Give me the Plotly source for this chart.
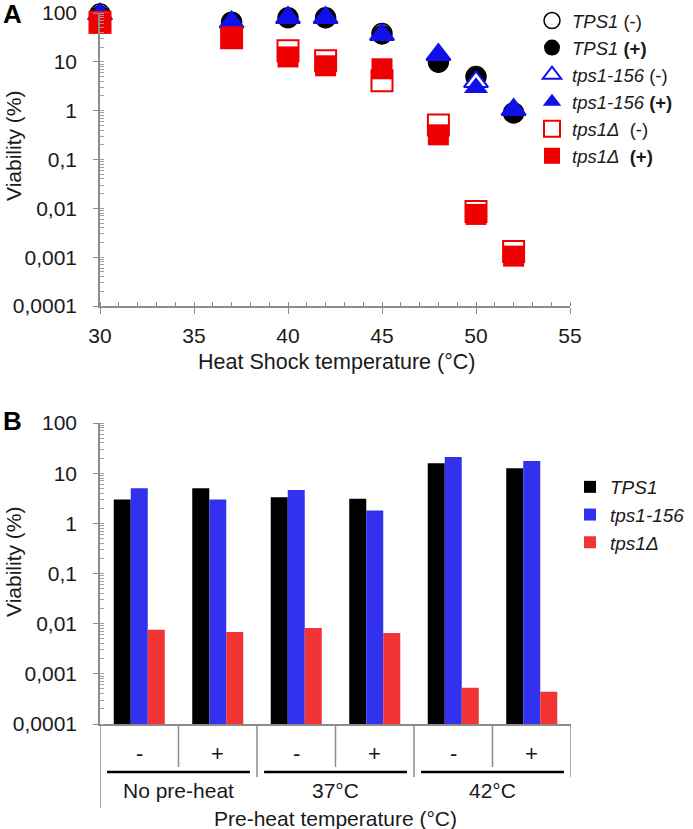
import plotly.graph_objects as go

W, H = 693, 829
FONT = "Liberation Sans, Arial, Helvetica, sans-serif"
TXT = "#1a1a1a"
AX = "#8c8c8c"

# ---------------- Panel A data ----------------
temps = [30, 37, 40, 42, 45, 48, 50, 52]
tps1_minus = [95, 65, 80, 80, 38, 10, 5.0, 0.9]
tps1_plus = [90, 65, 80, 78, 36, 9.5, 4.9, 0.9]
tps1_156_minus = [95, 65, 80, 80, 36, 14, 3.9, 1.05]
tps1_156_plus = [95, 65, 80, 80, 35, 14, 2.95, 1.05]
tps1d_minus = [65, 31, 16.8, 10.5, 4.1, 0.51, 0.0086, 0.0013]
tps1d_plus = [62, 30, 12.6, 8.3, 7.2, 0.32, 0.0075, 0.00105]

y_tickvals = [0.0001, 0.001, 0.01, 0.1, 1, 10, 100]
y_ticktext = ["0,0001", "0,001", "0,01", "0,1", "1", "10", "100"]
x_tickvals_a = [30, 35, 40, 45, 50, 55]

# ---------------- Panel B data ----------------
groups = ["No pre-heat", "37°C", "42°C"]
signs = ["-", "+", "-", "+", "-", "+"]
tps1_b = [3.0, 5.0, 3.3, 3.1, 15.8, 12.6]
tps1_156_b = [5.0, 3.0, 4.6, 1.8, 21.0, 17.4]
tps1d_b = [0.0076, 0.0068, 0.0082, 0.0065, 0.00053, 0.00044]


def px(x):
    return x / W


def py(y):
    return 1 - y / H


fig = go.Figure()

lab = [
    "<i>TPS1</i> (-)",
    "<i>TPS1</i> <b>(+)</b>",
    "<i>tps1-156</i> (-)",
    "<i>tps1-156</i> <b>(+)</b>",
    "<i>tps1Δ</i> \u00a0(-)",
    "<i>tps1Δ</i> \u00a0<b>(+)</b>",
]
series_a = [tps1_minus, tps1_plus, tps1_156_minus, tps1_156_plus, tps1d_minus, tps1d_plus]
styles = [
    dict(symbol="circle", size=20, color="white", line=dict(color="black", width=1.5)),
    dict(symbol="circle", size=20, color="black", line=dict(color="black", width=0)),
    dict(symbol="triangle-up", size=21, color="white", line=dict(color="#1010e8", width=2)),
    dict(symbol="triangle-up", size=21, color="#1010e8", line=dict(color="#1010e8", width=0)),
    dict(symbol="square", size=21, color="white", line=dict(color="#ee0000", width=2)),
    dict(symbol="square", size=21, color="#ee0000", line=dict(color="#ee0000", width=0)),
]
for name, vals, st in zip(lab, series_a, styles):
    fig.add_trace(go.Scatter(
        x=temps, y=vals, mode="markers", name=name, marker=st,
        xaxis="x", yaxis="y", legend="legend", cliponaxis=False,
    ))

bar_cols = ["#000000", "#3232ee", "#f23434"]
bar_names = ["<i>TPS1</i>", "<i>tps1-156</i>", "<i>tps1Δ</i>"]
idx = list(range(len(signs)))
for name, vals, c in zip(bar_names, [tps1_b, tps1_156_b, tps1d_b], bar_cols):
    fig.add_trace(go.Bar(
        x=idx, y=vals, name=name, marker=dict(color=c, line=dict(width=0)),
        xaxis="x2", yaxis="y2", legend="legend2",
    ))

common_y = dict(
    type="log", range=[-4, 2], tickvals=y_tickvals, ticktext=y_ticktext,
    showline=True, linecolor=AX, linewidth=1.5, ticks="outside", ticklen=5,
    tickcolor=AX, showgrid=False, zeroline=False, automargin=False,
    tickfont=dict(family=FONT, size=21, color=TXT),
    minor=dict(ticks="inside", ticklen=4, tickcolor="#a0a0a0", dtick="D1", showgrid=False),
    ticklabelstandoff=12,
)

shapes = []
annotations = []

# Panel B category box lines
for i in range(len(signs) + 1):
    xb = i - 0.5
    if i == 0:
        y1 = 808
    elif i % 2 == 0:
        y1 = 777
    else:
        y1 = 767
    shapes.append(dict(type="line", xref="x2", yref="paper", x0=xb, x1=xb,
                       y0=py(724), y1=py(y1), line=dict(color=AX, width=1.5)))
for g, name in enumerate(groups):
    shapes.append(dict(type="line", xref="x2", yref="paper", x0=2 * g - 0.41, x1=2 * g + 1.41,
                       y0=py(772), y1=py(772), line=dict(color="black", width=2.5)))
    annotations.append(dict(text=name, xref="x2", yref="paper", x=2 * g + 0.5, y=py(790),
                            showarrow=False, font=dict(family=FONT, size=21, color=TXT),
                            xanchor="center", yanchor="middle"))
for i, s in enumerate(signs):
    annotations.append(dict(text=s, xref="x2", yref="paper", x=i, y=py(753),
                            showarrow=False, font=dict(family=FONT, size=22, color=TXT),
                            xanchor="center", yanchor="middle"))

annotations += [
    dict(text="Pre-heat temperature (°C)", xref="paper", yref="paper", x=px(335), y=py(818),
         showarrow=False, font=dict(family=FONT, size=21, color=TXT), xanchor="center", yanchor="middle"),
    dict(text="Heat Shock temperature (°C)", xref="paper", yref="paper", x=px(336), y=py(362),
         showarrow=False, font=dict(family=FONT, size=21.5, color=TXT), xanchor="center", yanchor="middle"),
    dict(text="Viability (%)", xref="paper", yref="paper", x=px(13), y=py(146), textangle=-90,
         showarrow=False, font=dict(family=FONT, size=21, color=TXT), xanchor="center", yanchor="middle"),
    dict(text="Viability (%)", xref="paper", yref="paper", x=px(13), y=py(562), textangle=-90,
         showarrow=False, font=dict(family=FONT, size=21, color=TXT), xanchor="center", yanchor="middle"),
    dict(text="<b>A</b>", xref="paper", yref="paper", x=px(1), y=py(14),
         showarrow=False, font=dict(family=FONT, size=26, color="black"), xanchor="left", yanchor="middle"),
    dict(text="<b>B</b>", xref="paper", yref="paper", x=px(1), y=py(421),
         showarrow=False, font=dict(family=FONT, size=26, color="black"), xanchor="left", yanchor="middle"),
]

fig.update_layout(
    width=W, height=H, margin=dict(l=0, r=0, t=0, b=0, autoexpand=False),
    paper_bgcolor="white", plot_bgcolor="white",
    font=dict(family=FONT, size=20, color=TXT),
    barmode="group", bargap=0.35, bargroupgap=0,
    xaxis=dict(domain=[px(100), px(570)], anchor="y", range=[30, 55], tickvals=x_tickvals_a,
               showline=True, linecolor=AX, linewidth=1.5, ticks="outside", ticklen=6,
               tickcolor=AX, showgrid=False, zeroline=False, automargin=False,
               tickfont=dict(family=FONT, size=21, color=TXT), ticklabelstandoff=4,
               minor=dict(ticks="inside", ticklen=4, tickcolor=AX, dtick=1, showgrid=False)),
    yaxis=dict(domain=[py(306), py(13)], anchor="x", **common_y),
    xaxis2=dict(domain=[px(100), px(571)], anchor="y2", range=[-0.5, 5.5],
                showline=True, linecolor=AX, linewidth=1.5, ticks="", showticklabels=False,
                showgrid=False, zeroline=False, automargin=False),
    yaxis2=dict(domain=[py(724), py(423)], anchor="x2", **common_y),
    legend=dict(x=px(532), y=py(2), xanchor="left", yanchor="top", bgcolor="rgba(0,0,0,0)",
                font=dict(family=FONT, size=18.5, color=TXT), itemwidth=30, tracegroupgap=0,
                traceorder="normal"),
    legend2=dict(x=px(570), y=py(468), xanchor="left", yanchor="top", bgcolor="rgba(0,0,0,0)",
                 font=dict(family=FONT, size=19, color=TXT), itemwidth=30, tracegroupgap=0,
                 traceorder="normal"),
    shapes=shapes, annotations=annotations,
    showlegend=True,
)

fig.write_html("out.html", config={"displayModeBar": False},
               post_script="document.body.style.margin='0';document.body.style.padding='0';")
